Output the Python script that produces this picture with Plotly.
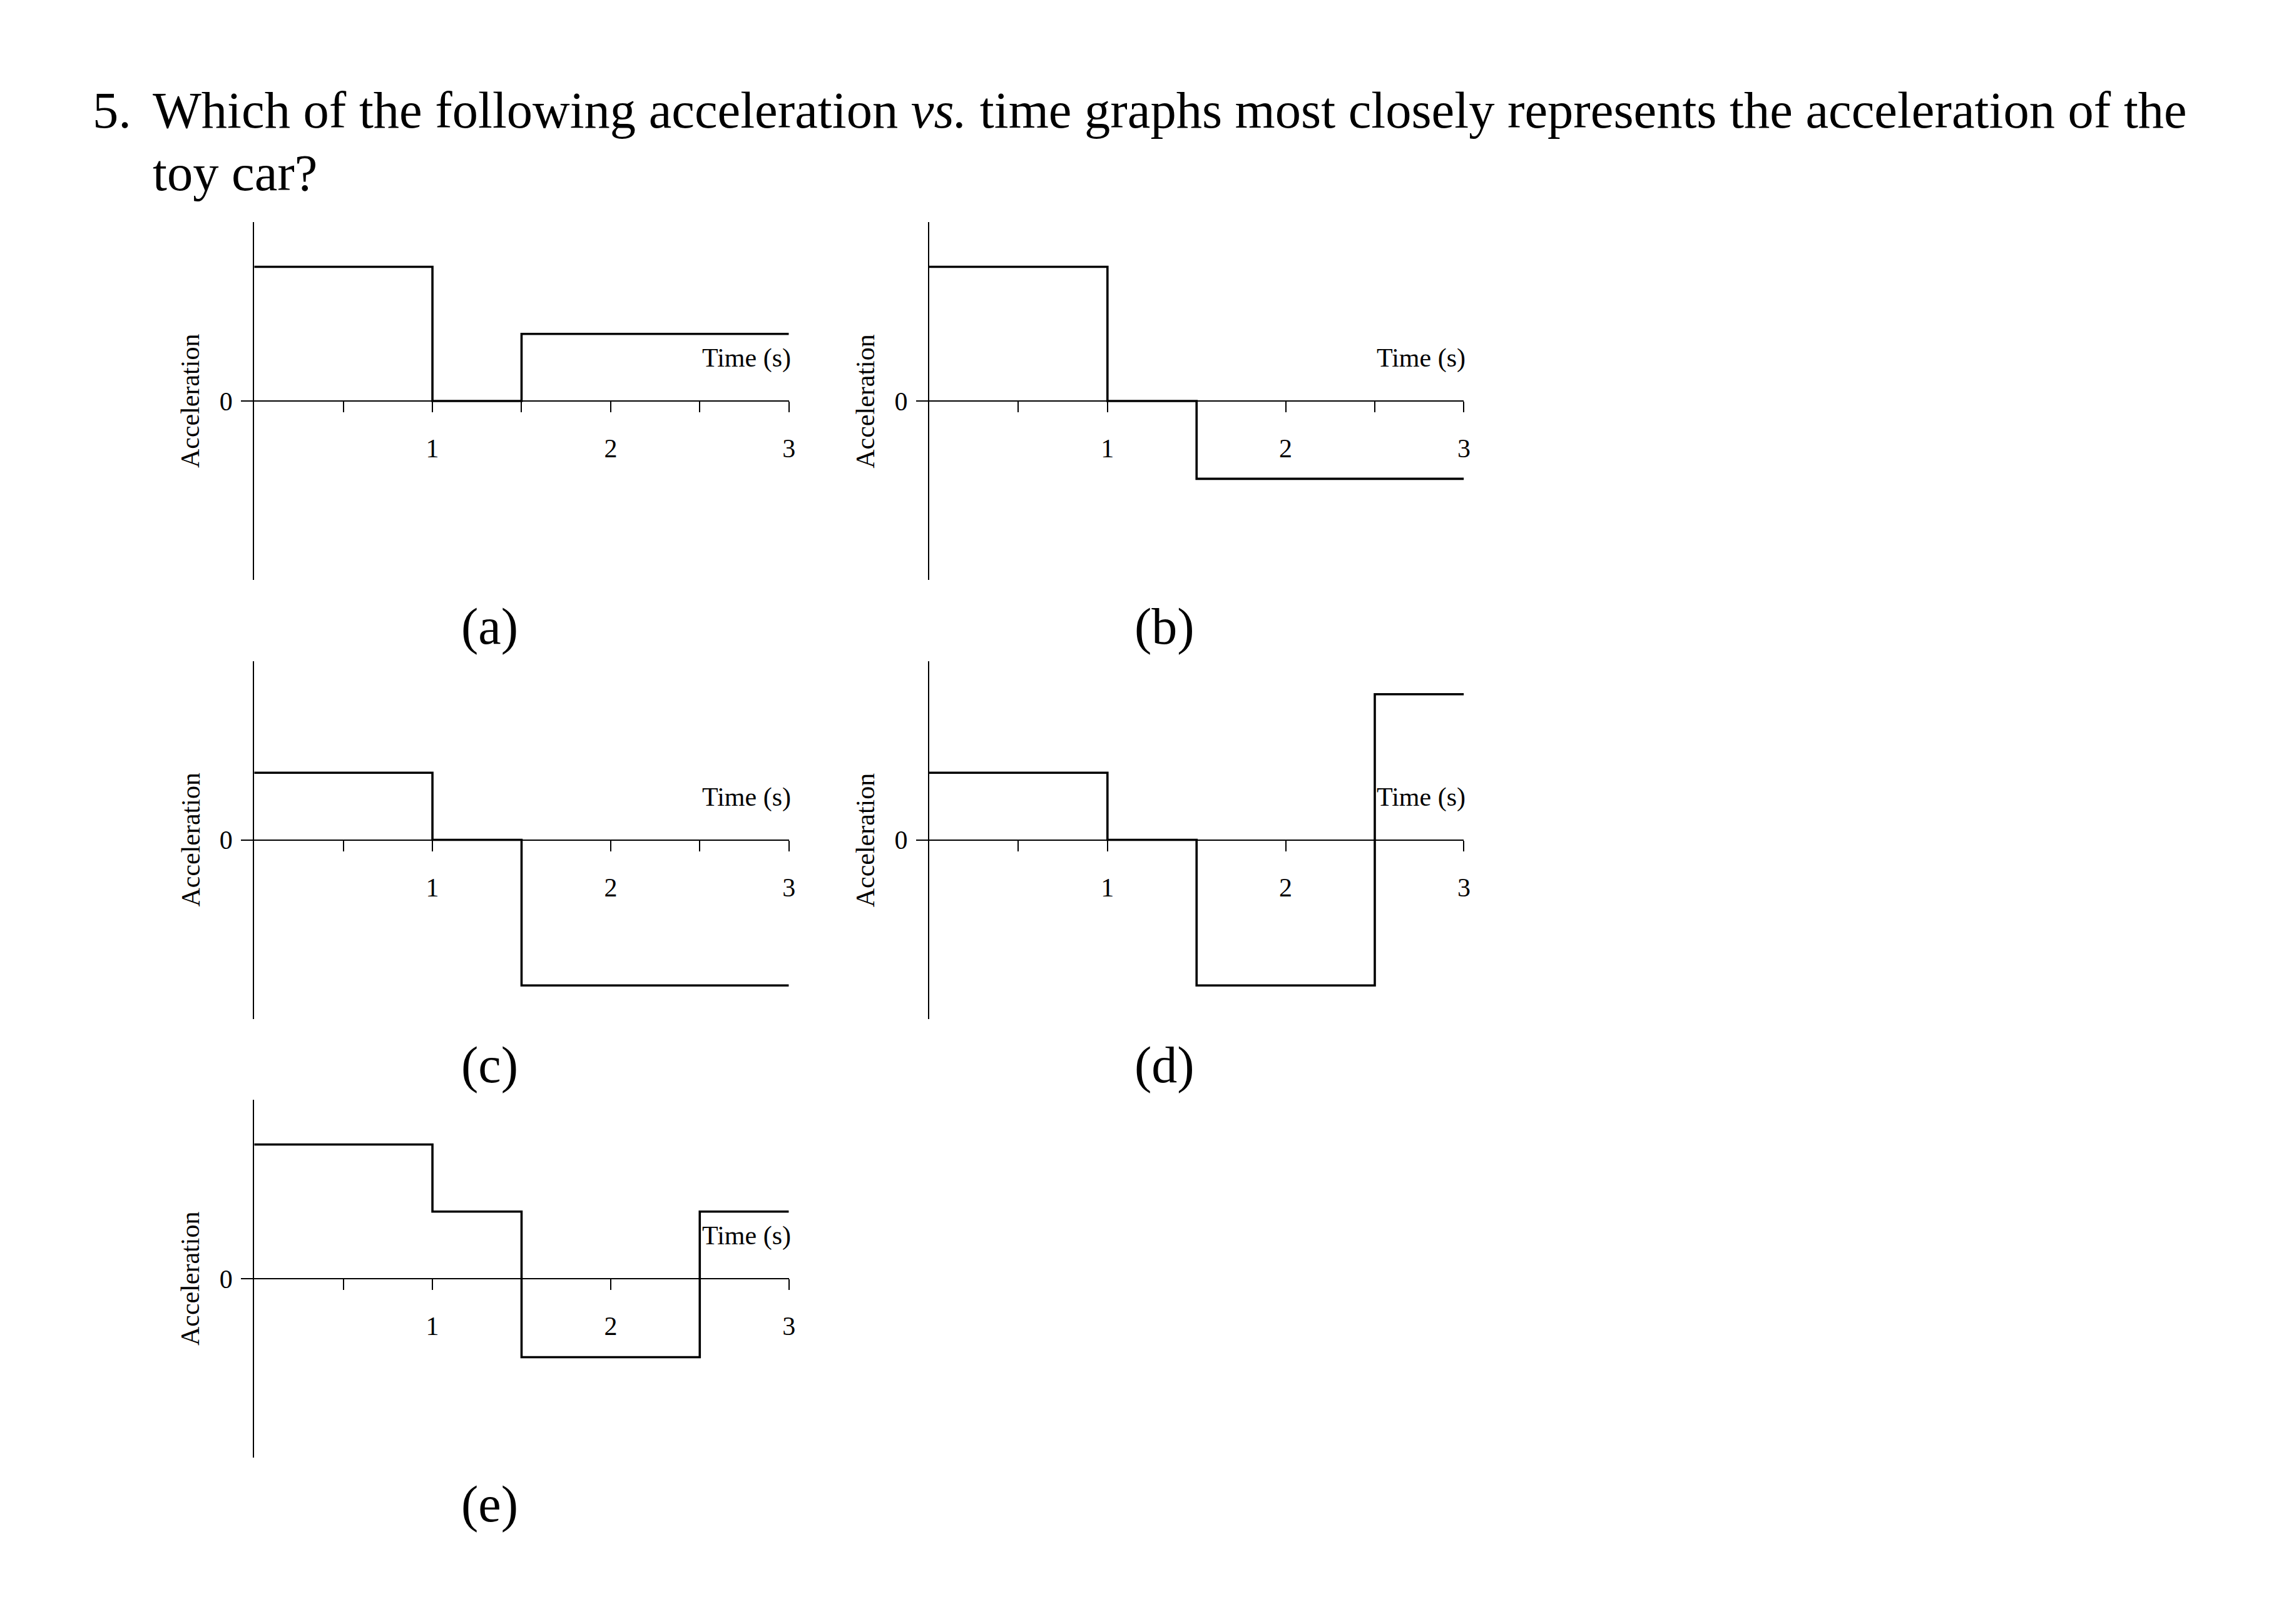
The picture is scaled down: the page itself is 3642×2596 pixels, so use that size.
import plotly.graph_objects as go

# ---------------- data ----------------
time_a = [0, 1, 1.5, 3]
acc_a = [2, 0, 1, 1]
time_b = [0, 1, 1.5, 3]
acc_b = [2, 0, -1.16, -1.16]
time_c = [0, 1, 1.5, 3]
acc_c = [1, 0, -2.17, -2.17]
time_d = [0, 1, 1.5, 2.5, 3]
acc_d = [1, 0, -2.17, 2.17, 2.17]
time_e = [0, 1, 1.5, 2.5, 3]
acc_e = [2, 1, -1.17, 1, 1]

panel_labels = ["(a)", "(b)", "(c)", "(d)", "(e)"]
x_tick_vals = [0.5, 1, 1.5, 2, 2.5, 3]
x_tick_text = ["", "1", "", "2", "", "3"]
y_tick_vals = [0]
y_tick_text = ["0"]
x_title = "Time (s)"
y_title = "Acceleration"
question_number = "5."
question_line1 = "Which of the following acceleration <i>vs.</i> time graphs most closely represents the acceleration of the"
question_line2 = "toy car?"

series = [(time_a, acc_a), (time_b, acc_b), (time_c, acc_c), (time_d, acc_d), (time_e, acc_e)]

# ---------------- geometry (pixels) ----------------
W, H = 3642, 2596
Y_RANGE = 2.667
col_left = [407.5, 1489.5]
x_span = 857
row_zero = [641, 1342.5, 2044]
half = 286
grid = [(0, 0), (0, 1), (1, 0), (1, 1), (2, 0)]

SERIF = "Liberation Serif, Times New Roman, serif"


def px(x):
    return x / W


def py(y):
    return 1 - y / H


fig = go.Figure()
annotations = []

for i, ((t, a), (r, c)) in enumerate(zip(series, grid)):
    n = "" if i == 0 else str(i + 1)
    xa = "x" + n
    ya = "y" + n
    fig.add_trace(go.Scatter(
        x=t, y=a, mode="lines", line=dict(shape="hv", color="black", width=3.6),
        xaxis=xa, yaxis=ya, showlegend=False, hoverinfo="skip", cliponaxis=False,
    ))
    x0 = col_left[c]
    x1 = x0 + x_span
    z = row_zero[r]
    fig.layout["xaxis" + n] = dict(
        domain=[px(x0), px(x1)], range=[0, 3], anchor="free", position=py(z),
        showline=True, linecolor="black", linewidth=2,
        ticks="outside", ticklen=17, tickwidth=2, tickcolor="black",
        tickvals=x_tick_vals, ticktext=x_tick_text, ticklabelstandoff=22,
        tickfont=dict(family=SERIF, size=42, color="black"),
        showgrid=False, zeroline=False, fixedrange=True,
    )
    fig.layout["yaxis" + n] = dict(
        domain=[py(z + half), py(z - half)], range=[-Y_RANGE, Y_RANGE], anchor=xa,
        showline=True, linecolor="black", linewidth=2,
        ticks="outside", ticklen=19, tickwidth=2, tickcolor="black",
        tickvals=y_tick_vals, ticktext=y_tick_text, ticklabelstandoff=5,
        tickfont=dict(family=SERIF, size=42, color="black"),
        showgrid=False, zeroline=False, fixedrange=True,
    )
    # axis titles
    annotations.append(dict(
        text=x_title, x=px(x1 + 5), y=py(z - 68.5), xref="paper", yref="paper",
        xanchor="right", yanchor="middle", showarrow=False,
        font=dict(family=SERIF, size=42, color="black"),
    ))
    annotations.append(dict(
        text=y_title, x=px(x0 - 102.5), y=py(z), xref="paper", yref="paper",
        xanchor="center", yanchor="middle", showarrow=False, textangle=-90,
        font=dict(family=SERIF, size=42, color="black"),
    ))
    # panel label
    annotations.append(dict(
        text=panel_labels[i], x=px(x0 + 377.5), y=py(z + 360), xref="paper", yref="paper",
        xanchor="center", yanchor="middle", showarrow=False,
        font=dict(family=SERIF, size=82, color="black"),
    ))

# question text
annotations.append(dict(
    text=question_number, x=px(146), y=py(176), xref="paper", yref="paper",
    xanchor="left", yanchor="middle", showarrow=False,
    font=dict(family=SERIF, size=82.5, color="black"),
))
annotations.append(dict(
    text=question_line1, x=px(243), y=py(176), xref="paper", yref="paper",
    xanchor="left", yanchor="middle", showarrow=False,
    font=dict(family=SERIF, size=82.5, color="black"),
))
annotations.append(dict(
    text=question_line2, x=px(243), y=py(276), xref="paper", yref="paper",
    xanchor="left", yanchor="middle", showarrow=False,
    font=dict(family=SERIF, size=82.5, color="black"),
))

fig.update_layout(
    width=W, height=H, margin=dict(l=0, r=0, t=0, b=0, pad=0),
    paper_bgcolor="white", plot_bgcolor="rgba(0,0,0,0)",
    annotations=annotations, showlegend=False,
)

fig.write_html(
    "out.html",
    config={"displayModeBar": False, "staticPlot": True},
    post_script="document.body.style.margin='0';document.body.style.overflow='hidden';",
)
